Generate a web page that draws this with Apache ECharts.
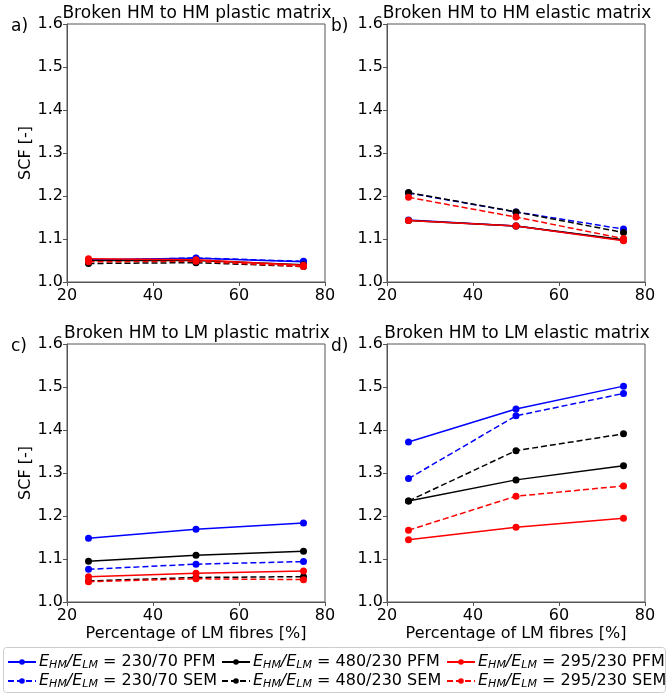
<!DOCTYPE html>
<html><head><meta charset="utf-8">
<script src="https://cdn.jsdelivr.net/npm/echarts@6/dist/echarts.min.js"></script>
<style>html,body{margin:0;padding:0;background:#fff}#c{width:670px;height:695px}</style>
</head><body><div id="c"></div>
<script>
const xValues = [25, 50, 75];
const yTicks = [1.0, 1.1, 1.2, 1.3, 1.4, 1.5, 1.6];
const xTicks = [20, 40, 60, 80];
const panelTitles = ['Broken HM to HM plastic matrix', 'Broken HM to HM elastic matrix', 'Broken HM to LM plastic matrix', 'Broken HM to LM elastic matrix'];
const panelLetters = ['a)', 'b)', 'c)', 'd)'];
const seriesLabels = ['230/70 PFM', '230/70 SEM', '480/230 PFM', '480/230 SEM', '295/230 PFM', '295/230 SEM'];

// panel a
const aBluePFM = [1.052, 1.055, 1.047];
const aBlueSEM = [1.050, 1.056, 1.048];
const aBlackPFM = [1.050, 1.050, 1.040];
const aBlackSEM = [1.043, 1.045, 1.036];
const aRedPFM = [1.054, 1.052, 1.039];
const aRedSEM = [1.047, 1.048, 1.036];
// panel b
const bBluePFM = [1.144, 1.130, 1.097];
const bBlueSEM = [1.207, 1.163, 1.123];
const bBlackPFM = [1.143, 1.130, 1.098];
const bBlackSEM = [1.208, 1.163, 1.115];
const bRedPFM = [1.143, 1.130, 1.096];
const bRedSEM = [1.197, 1.151, 1.101];
// panel c
const cBluePFM = [1.148, 1.169, 1.184];
const cBlueSEM = [1.076, 1.088, 1.094];
const cBlackPFM = [1.095, 1.109, 1.118];
const cBlackSEM = [1.049, 1.057, 1.059];
const cRedPFM = [1.059, 1.067, 1.072];
const cRedSEM = [1.047, 1.054, 1.052];
// panel d
const dBluePFM = [1.372, 1.449, 1.502];
const dBlueSEM = [1.287, 1.433, 1.485];
const dBlackPFM = [1.235, 1.284, 1.317];
const dBlackSEM = [1.235, 1.352, 1.391];
const dRedPFM = [1.145, 1.174, 1.195];
const dRedSEM = [1.167, 1.246, 1.270];

const panelData = [
  [aBluePFM, aBlueSEM, aBlackPFM, aBlackSEM, aRedPFM, aRedSEM],
  [bBluePFM, bBlueSEM, bBlackPFM, bBlackSEM, bRedPFM, bRedSEM],
  [cBluePFM, cBlueSEM, cBlackPFM, cBlackSEM, cRedPFM, cRedSEM],
  [dBluePFM, dBlueSEM, dBlackPFM, dBlackSEM, dRedPFM, dRedSEM]
];
const colors = ['#0000ff', '#0000ff', '#000000', '#000000', '#ff0000', '#ff0000'];
const dashed = [false, true, false, true, false, true];

const FONT = 'DejaVu Sans';
const axisColor = '#555';
const gridPos = [
  {left: 67, top: 24}, {left: 387, top: 24},
  {left: 67, top: 344}, {left: 387, top: 344}
];
const W = 258, H = 258;

const grids = [], xAxes = [], yAxes = [], series = [], titles = [];
gridPos.forEach((g, p) => {
  grids.push({left: g.left, top: g.top, width: W, height: H, show: true, borderColor: axisColor, borderWidth: 1, containLabel: false});
  xAxes.push({
    type: 'value', gridIndex: p, min: 20, max: 80, interval: 20,
    axisLine: {show: true, onZero: false, lineStyle: {color: axisColor, width: 1}},
    axisTick: {show: true, length: 4, lineStyle: {color: axisColor}},
    axisLabel: {color: '#000', fontFamily: FONT, fontSize: 16, margin: 6, formatter: v => xTicks.includes(v) ? String(v) : ''},
    splitLine: {show: false},
    name: p >= 2 ? 'Percentage of LM fibres [%]' : '',
    nameLocation: 'middle', nameGap: 24,
    nameTextStyle: {color: '#000', fontFamily: FONT, fontSize: 16}
  });
  yAxes.push({
    type: 'value', gridIndex: p, min: 1.0, max: 1.6, interval: 0.1,
    axisLine: {show: true, onZero: false, lineStyle: {color: axisColor, width: 1}},
    axisTick: {show: true, length: 4, lineStyle: {color: axisColor}},
    axisLabel: {color: '#000', fontFamily: FONT, fontSize: 16, margin: 4, formatter: v => v.toFixed(1)},
    splitLine: {show: false},
    name: (p % 2 === 0) ? 'SCF [-]' : '',
    nameLocation: 'middle', nameGap: 33, nameRotate: 90,
    nameTextStyle: {color: '#000', fontFamily: FONT, fontSize: 16}
  });
  titles.push({text: panelTitles[p], left: g.left + W / 2 - 4, top: g.top - 24, textAlign: 'center',
    textStyle: {fontFamily: FONT, fontSize: 17, fontWeight: 'normal', color: '#000'}});
  titles.push({text: panelLetters[p], left: g.left - 61, top: g.top - 11,
    textStyle: {fontFamily: FONT, fontSize: 17, fontWeight: 'normal', color: '#000'}});
  panelData[p].forEach((vals, s) => {
    series.push({
      name: seriesLabels[s], type: 'line', xAxisIndex: p, yAxisIndex: p,
      data: xValues.map((x, i) => [x, vals[i]]),
      symbol: 'circle', symbolSize: 7, showSymbol: true,
      lineStyle: {color: colors[s], width: 1.5, type: dashed[s] ? [6, 3] : 'solid'},
      itemStyle: {color: colors[s]},
      animation: false, silent: true
    });
  });
});

const rich = {
  i: {fontFamily: FONT, fontSize: 16, fontStyle: 'italic', color: '#000'},
  s: {fontFamily: FONT, fontSize: 11, fontStyle: 'italic', color: '#000', padding: [7, 0, 0, 0]},
  n: {fontFamily: FONT, fontSize: 16, color: '#000'}
};
const legendFormatter = name => '{i|E}{s|HM}{i|/E}{s|LM}{n| = ' + name + '}';
const legendCols = [[0, 1], [2, 3], [4, 5]];
const legendLeft = [2, 216, 441];
const legends = legendCols.map((idx, c) => ({
  left: legendLeft[c], top: 649, orient: 'vertical', itemGap: 2,
  itemWidth: 28, itemHeight: 7,
  data: idx.map(i => seriesLabels[i]),
  formatter: legendFormatter,
  textStyle: {rich: rich, fontFamily: FONT, fontSize: 16, padding: [0, 0, 0, -2]},
  selectedMode: false
}));

const chart = echarts.init(document.getElementById('c'), null, {renderer: 'canvas'});
chart.setOption({
  animation: false,
  title: titles,
  grid: grids, xAxis: xAxes, yAxis: yAxes, series: series,
  legend: legends,
  graphic: [{type: 'rect', shape: {x: 3.5, y: 647.5, width: 662, height: 45, r: 3}, style: {fill: 'none', stroke: '#ccc', lineWidth: 1}}]
});
</script></body></html>
